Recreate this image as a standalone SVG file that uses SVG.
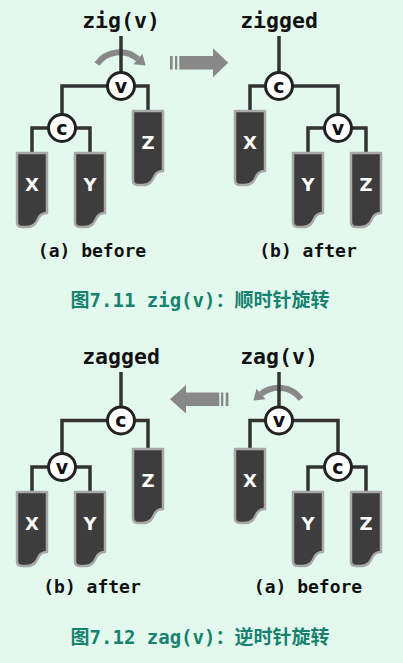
<svg xmlns="http://www.w3.org/2000/svg" width="403" height="663" viewBox="0 0 403 663">
<style>
.bg{fill:#e3f9ee}
.ln{fill:none;stroke:#333;stroke-width:3.5}
.nd circle{fill:#fff;stroke:#222;stroke-width:3}
.nd text{font-family:"DejaVu Sans",sans-serif;font-weight:bold;font-size:19px;fill:#111;text-anchor:middle}
.st use{fill:#3d3d3d;stroke:#a8a8a8;stroke-width:2.5;stroke-linejoin:round}
.st text{font-family:"DejaVu Sans",sans-serif;font-weight:bold;font-size:18px;fill:#fff;text-anchor:middle}
.ttl{font-family:"DejaVu Sans Mono",monospace;font-weight:bold;font-size:21.5px;fill:#111;text-anchor:middle}
.lbl{font-family:"DejaVu Sans Mono",monospace;font-weight:bold;font-size:18px;fill:#111;text-anchor:middle}
.cap{font-family:"DejaVu Sans Mono","Noto Sans CJK SC",monospace;font-weight:bold;font-size:19px;fill:#16826f;text-anchor:middle}
.arr{fill:#888}
.rot{fill:none;stroke:#888;stroke-width:6}
</style>
<defs>
<path id="sub" d="M0,0 H30 V60 C26,60 24,61 22,64 C19,70 17,74 10,74 H5 Q0,74 0,69 Z"/>
</defs>
<rect class="bg" x="0" y="0" width="403" height="663"/>

<!-- top texts -->
<text class="ttl" x="121" y="28">zig(v)</text>
<text class="ttl" x="279" y="28">zigged</text>
<text class="lbl" x="92" y="257">(a) before</text>
<text class="lbl" x="308" y="257">(b) after</text>
<text class="cap" x="200" y="307">图7.11 zig(v)：顺时针旋转</text>

<!-- bottom texts -->
<text class="ttl" x="121" y="364">zagged</text>
<text class="ttl" x="279" y="364">zag(v)</text>
<text class="lbl" x="92" y="593">(b) after</text>
<text class="lbl" x="308" y="593">(a) before</text>
<text class="cap" x="200" y="644">图7.12 zag(v)：逆时针旋转</text>

<!-- arrows -->
<g id="arrows">
<rect class="arr" x="170" y="56" width="2.7" height="13.5"/>
<rect class="arr" x="175" y="56" width="2.3" height="13.5"/>
<polygon class="arr" points="179.3,56 213,56 213,48.3 228.3,62.8 213,77.3 213,69.5 179.3,69.5"/>
<rect class="arr" x="221" y="392.5" width="2.3" height="13.5"/>
<rect class="arr" x="225.7" y="392.5" width="2.7" height="13.5"/>
<polygon class="arr" points="219.3,392.5 186,392.5 186,385 170,399.2 186,413.5 186,406 219.3,406"/>
<path class="rot" d="M97,64 A28,28 0 0 1 138,59"/>
<polygon class="arr" points="133.5,64.3 142.5,53.7 145.6,65.5"/>
<path class="rot" d="M301,399 A28,28 0 0 0 261,394"/>
<polygon class="arr" points="265.5,399.3 256.5,388.7 253.4,400.5"/>
</g>

<!-- connectors -->
<g id="connectors">
<path class="ln" d="M121,36 V73"/>
<path class="ln" d="M62,128 V86 H148 V111"/>
<path class="ln" d="M32,153 V128 H90 V153"/>
<path class="ln" d="M279,36 V73"/>
<path class="ln" d="M250,111 V86 H338 V128"/>
<path class="ln" d="M308,153 V128 H366 V153"/>
<path class="ln" d="M121,372 V408"/>
<path class="ln" d="M62,467 V420.5 H148 V449"/>
<path class="ln" d="M32,492 V467 H90 V492"/>
<path class="ln" d="M279,372 V408"/>
<path class="ln" d="M250,449 V420.5 H338 V467"/>
<path class="ln" d="M308,492 V467 H366 V492"/>
</g>

<!-- top-left: before zig -->
<g id="tl-v" class="nd"><circle cx="121" cy="86" r="13.5"/><text x="121" y="92.5">v</text></g>
<g id="tl-c" class="nd"><circle cx="62" cy="128" r="13.5"/><text x="62" y="134.5">c</text></g>
<g id="tl-X" class="st"><use href="#sub" transform="translate(17,153)"/><text x="32" y="191">X</text></g>
<g id="tl-Y" class="st"><use href="#sub" transform="translate(75,153)"/><text x="90" y="191">Y</text></g>
<g id="tl-Z" class="st"><use href="#sub" transform="translate(133,111)"/><text x="148" y="149">Z</text></g>

<!-- top-right: after zig -->
<g id="tr-c" class="nd"><circle cx="279" cy="86" r="13.5"/><text x="279" y="92.5">c</text></g>
<g id="tr-v" class="nd"><circle cx="338" cy="128" r="13.5"/><text x="338" y="134.5">v</text></g>
<g id="tr-X" class="st"><use href="#sub" transform="translate(235,111)"/><text x="250" y="149">X</text></g>
<g id="tr-Y" class="st"><use href="#sub" transform="translate(293,153)"/><text x="308" y="191">Y</text></g>
<g id="tr-Z" class="st"><use href="#sub" transform="translate(351,153)"/><text x="366" y="191">Z</text></g>

<!-- bottom-left: after zag -->
<g id="bl-c" class="nd"><circle cx="121" cy="420.5" r="13.5"/><text x="121" y="427">c</text></g>
<g id="bl-v" class="nd"><circle cx="62" cy="467" r="13.5"/><text x="62" y="473.5">v</text></g>
<g id="bl-X" class="st"><use href="#sub" transform="translate(17,492)"/><text x="32" y="530">X</text></g>
<g id="bl-Y" class="st"><use href="#sub" transform="translate(75,492)"/><text x="90" y="530">Y</text></g>
<g id="bl-Z" class="st"><use href="#sub" transform="translate(133,449)"/><text x="148" y="487">Z</text></g>

<!-- bottom-right: before zag -->
<g id="br-v" class="nd"><circle cx="279" cy="420.5" r="13.5"/><text x="279" y="427">v</text></g>
<g id="br-c" class="nd"><circle cx="338" cy="467" r="13.5"/><text x="338" y="473.5">c</text></g>
<g id="br-X" class="st"><use href="#sub" transform="translate(235,449)"/><text x="250" y="487">X</text></g>
<g id="br-Y" class="st"><use href="#sub" transform="translate(293,492)"/><text x="308" y="530">Y</text></g>
<g id="br-Z" class="st"><use href="#sub" transform="translate(351,492)"/><text x="366" y="530">Z</text></g>
</svg>
